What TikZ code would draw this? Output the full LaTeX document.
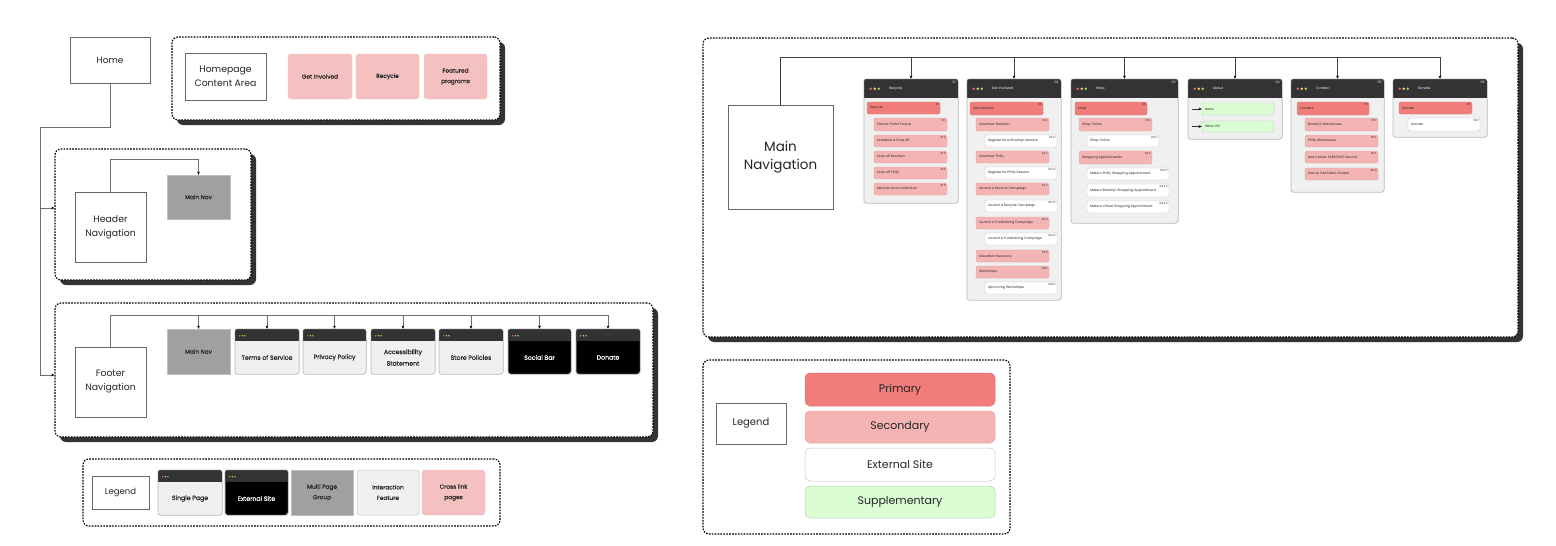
\documentclass[tikz,border=0pt]{standalone}
\usepackage{fontspec}
\setmainfont{Poppins}
\newfontfamily\popsemi[FakeBold=0.6]{Poppins}
\usetikzlibrary{arrows.meta,shadows}
\definecolor{prim}{HTML}{F07D79}
\definecolor{primd}{HTML}{E0716D}
\definecolor{sec}{HTML}{F4B4B4}
\definecolor{secd}{HTML}{E3A3A3}
\definecolor{pinkbox}{HTML}{F5C0C0}
\definecolor{supp}{HTML}{DAFDD4}
\definecolor{suppd}{HTML}{B4CFB0}
\definecolor{colbg}{HTML}{F0F0F0}
\definecolor{colbd}{HTML}{C4C4C4}
\definecolor{barc}{HTML}{333333}
\definecolor{multig}{HTML}{A0A0A0}
\definecolor{dotr}{HTML}{E8666B}
\definecolor{doty}{HTML}{E8D66A}
\definecolor{dotg}{HTML}{98D86E}
\definecolor{lnc}{HTML}{6E6E6E}
\definecolor{txtc}{HTML}{262626}
\tikzset{
  plain/.style={draw=black!60, line width=0.7pt, fill=white, inner sep=0pt, align=center, text=txtc},
  pink/.style={draw=secd!70, fill=pinkbox, rounded corners=3pt, line width=0.4pt, inner sep=0pt, align=center, text=txtc, font=\popsemi\fontsize{5.8}{10.5}\selectfont},
  dashbox/.style={draw=black, line width=1.1pt, dash pattern=on 1.7pt off 1.2pt, rounded corners=6pt, fill=white, inner sep=0pt},
  shadowed/.style={drop shadow={shadow xshift=5pt, shadow yshift=-5pt, fill=barc, opacity=1}},
  winbody/.style={draw=colbd, fill=colbg, rounded corners=2.5pt, line width=0.5pt, inner sep=0pt},
  wintxt/.style={inner sep=0pt, align=center, font=\popsemi\fontsize{6.2}{11.5}\selectfont},
  multi/.style={draw=black!25, fill=multig, line width=0.4pt, inner sep=0pt, align=center, text=txtc, font=\popsemi\fontsize{5.8}{10.5}\selectfont},
  conn/.style={draw=lnc, line width=0.6pt},
  arr/.style={draw=lnc, line width=0.6pt, -{Stealth[length=3.2pt,width=2.8pt,black]}},
  primitem/.style={draw=primd, fill=prim, rounded corners=2pt, line width=0.4pt, inner sep=0pt},
  secitem/.style={draw=secd, fill=sec, rounded corners=2pt, line width=0.4pt, inner sep=0pt},
  extitem/.style={draw=colbd, fill=white, rounded corners=2pt, line width=0.4pt, inner sep=0pt},
  suppitem/.style={draw=suppd, fill=supp, rounded corners=2pt, line width=0.4pt, inner sep=0pt},
  itxt/.style={font=\fontsize{3.3}{4}\selectfont, inner sep=0pt, anchor=west, text=txtc},
  ntxt/.style={font=\fontsize{2.8}{3.2}\selectfont, inner sep=0pt, anchor=north east, text=txtc},
  ctitle/.style={font=\fontsize{3.4}{4}\selectfont, inner sep=0pt, anchor=west, text=white},
  cnum/.style={font=\fontsize{3.2}{4}\selectfont, inner sep=0pt, anchor=north east, text=white},
  legitem/.style={rounded corners=5pt, line width=0.5pt, inner sep=0pt, text=txtc, font=\fontsize{11}{13}\selectfont}
}
\newcommand\bx[7]{\node[#2, minimum width={(#5-#3)*1pt}, minimum height={(#6-#4)*1pt}] (#1) at ({(#3+#5)/2},{(#4+#6)/2}) {#7};}
\newcommand\winbox[9]{%
  \bx{#1}{winbody, fill=#7}{#2}{#3}{#4}{#5}{}
  \begin{scope}
    \clip[rounded corners=2.5pt] (#1.south west) rectangle (#1.north east);
    \fill[barc] (#1.north west) rectangle ([yshift=-#6pt]#1.north east);
  \end{scope}
  \draw[colbd, line width=0.5pt, rounded corners=2.5pt] (#1.south west) rectangle (#1.north east);
  \fill[dotr] ([xshift=5pt,yshift=-7pt]#1.north west) circle (0.8pt);
  \fill[doty] ([xshift=7.6pt,yshift=-7pt]#1.north west) circle (0.8pt);
  \fill[dotg] ([xshift=10.2pt,yshift=-7pt]#1.north west) circle (0.8pt);
  \node[wintxt, text=#8] (#1-t) at ({(#2+#4)/2},{(#3+#5+#6)/2}) {#9};
}
\newcommand\colwin[7]{%
  \bx{#1}{winbody}{#2}{#3}{#4}{#5}{}
  \begin{scope}
    \clip[rounded corners=2.5pt] (#1.south west) rectangle (#1.north east);
    \fill[barc] (#1.north west) rectangle ([yshift=-19pt]#1.north east);
  \end{scope}
  \draw[colbd, line width=0.5pt, rounded corners=2.5pt] (#1.south west) rectangle (#1.north east);
  \fill[dotr] ([xshift=7pt,yshift=-10pt]#1.north west) circle (1.3pt);
  \fill[doty] ([xshift=11pt,yshift=-10pt]#1.north west) circle (1.3pt);
  \fill[dotg] ([xshift=15pt,yshift=-10pt]#1.north west) circle (1.3pt);
  \node[ctitle] (#1-t) at ([xshift=25pt,yshift=-10pt]#1.north west) {#6};
  \node[cnum] (#1-n) at ([xshift=-2.5pt,yshift=-2.5pt]#1.north east) {#7};
}
\newcommand\nitem[8]{%
  \bx{#1}{#2}{#3}{#4}{#5}{#6}{}
  \node[itxt] (#1-t) at ([xshift=3pt]#1.west) {#7};
  \node[ntxt] (#1-n) at ([xshift=-1.5pt,yshift=-1.3pt]#1.north east) {#8};
}
\begin{document}
\begin{tikzpicture}[x=1pt,y=-1pt]
\useasboundingbox (0,0) rectangle (1556,546);
\fill[white] (0,0) rectangle (1556,546);

% ---------- LEFT: home ----------
\bx{home}{plain, font=\fontsize{9}{11}\selectfont}{70}{37}{150}{83}{Home}
\bx{hca}{dashbox,shadowed}{172}{37}{500}{120}{}
\bx{hcabox}{plain, font=\fontsize{9.3}{13.5}\selectfont}{185}{53}{266}{100}{Homepage\\Content Area}
\bx{hgi}{pink}{288}{54}{352}{99}{Get Involved}
\bx{hre}{pink}{356}{54}{419}{99}{Recycle}
\bx{hfp}{pink}{424}{54}{487}{99}{Featured\\programs}

% ---------- header ----------
\bx{hdr}{dashbox,shadowed}{55}{149}{251}{280}{}
\bx{hn}{plain, font=\fontsize{9.3}{14}\selectfont}{75}{192}{146}{262}{Header\\Navigation}
\bx{hmn}{multi}{167}{175}{230}{219}{Main Nav}
\draw[arr] (hn.north) |- ([yshift=16pt]hmn.north) -- (hmn.north);

% ---------- footer ----------
\bx{ftr}{dashbox,shadowed}{55}{303}{653}{437}{}
\bx{fn}{plain, font=\fontsize{9.3}{14}\selectfont}{75}{347}{146}{417}{Footer\\Navigation}
\bx{fmn}{multi}{167}{329}{230}{374}{Main Nav}
\winbox{fts}{235}{329}{299}{374}{12}{colbg}{txtc}{Terms of Service}
\winbox{fpp}{303}{329}{366}{374}{12}{colbg}{txtc}{Privacy Policy}
\winbox{fas}{371}{329}{435}{374}{12}{colbg}{txtc}{Accessibility\\Statement}
\winbox{fsp}{439}{329}{503}{374}{12}{colbg}{txtc}{Store Policies}
\winbox{fsb}{508}{329}{571}{374}{12}{black}{white}{Social Bar}
\winbox{fdo}{576}{329}{640}{374}{12}{black}{white}{Donate}
\coordinate (fbus) at (111,315);
\draw[conn] (fn.north) -- (fn.north |- fbus) -- (fdo.north |- fbus);
\foreach \b in {fmn,fts,fpp,fas,fsp,fsb,fdo}{\draw[arr] (\b.north |- fbus) -- (\b.north);}

% ---------- trunk ----------
\coordinate (t1) at (40,127);
\coordinate (t2) at (40,208);
\coordinate (t3) at (40,375);
\draw[conn] (home.south) |- (t1) -- (t3);
\draw[arr] (t2) -- (t2 -| hdr.west);
\draw[arr] (t3) -- (t3 -| ftr.west);

% ---------- left legend ----------
\bx{lg}{dashbox}{83}{459}{500}{526}{}
\bx{lgl}{plain, font=\fontsize{8.5}{10}\selectfont}{92}{476}{149}{509}{Legend}
\winbox{lsp}{158}{470}{222}{515}{12}{colbg}{txtc}{Single Page}
\winbox{les}{225}{470}{288}{515}{12}{black}{white}{External Site}
\bx{lmp}{multi}{291}{470}{353}{515}{Multi Page\\Group}
\bx{lif}{winbody, align=center, text=txtc, font=\popsemi\fontsize{5.8}{10.5}\selectfont}{357}{470}{419}{515}{Interaction\\Feature}
\bx{lcl}{pink}{422}{470}{485}{515}{Cross link\\pages}

% ---------- RIGHT: main navigation ----------
\bx{mn}{dashbox,shadowed}{703}{38}{1518}{337}{}
\bx{mnav}{plain, font=\fontsize{13.5}{18}\selectfont}{728}{105}{833}{209}{Main\\Navigation}

\colwin{cR}{864}{79}{958}{203}{Recycle}{01}
\colwin{cG}{967}{79}{1061}{300}{Get Involved}{02}
\colwin{cS}{1071}{79}{1178}{223}{Shop}{03}
\colwin{cA}{1188}{79}{1282}{139}{About}{04}
\colwin{cC}{1291}{79}{1384}{192}{Contact}{05}
\colwin{cD}{1393}{79}{1487}{137}{Donate}{06}

\coordinate (mbus) at (781,57);
\draw[conn, draw=black!75] (mnav.north) -- (mnav.north |- mbus) -- (cD.north |- mbus);
\foreach \c in {cR,cG,cS,cA,cC,cD}{\draw[arr, draw=black!75] (\c.north |- mbus) -- (\c.north);}

% Recycle
\nitem{r0}{primitem}{867}{102}{940}{114}{Recycle}{01}
\nitem{r1}{secitem}{874}{118}{947}{131}{Partner Portal Pickup}{01.1}
\nitem{r2}{secitem}{874}{135}{947}{147}{Schedule a Drop off}{01.2}
\nitem{r3}{secitem}{874}{151}{947}{163}{Drop off Brooklyn}{01.3}
\nitem{r4}{secitem}{874}{167}{947}{179}{Drop off Philly}{01.4}
\nitem{r5}{secitem}{874}{183}{947}{195}{Recycle as an Individual}{01.5}

% Get Involved
\nitem{g0}{primitem}{970}{102}{1043}{115}{Get Involved}{02}
\nitem{g1}{secitem}{976}{118}{1049}{131}{Volunteer Brooklyn}{02.1}
\nitem{g2}{extitem}{985}{135}{1057}{147}{Register for a Brooklyn Session}{02.1.1}
\nitem{g3}{secitem}{976}{151}{1049}{163}{Volunteer Philly}{02.2}
\nitem{g4}{extitem}{985}{167}{1057}{179}{Register for Philly Session}{02.2.1}
\nitem{g5}{secitem}{976}{183}{1049}{195}{Launch a Recycle Campaign}{02.3}
\nitem{g6}{extitem}{985}{200}{1057}{212}{Launch a Recycle Campaign}{02.3.1}
\nitem{g7}{secitem}{976}{217}{1049}{229}{Launch a Fundraising Campaign}{02.4}
\nitem{g8}{extitem}{985}{233}{1057}{245}{Launch a Fundraising Campaign}{02.4.1}
\nitem{g9}{secitem}{976}{250}{1049}{262}{Education Resource}{02.5}
\nitem{g10}{secitem}{976}{266}{1049}{278}{Workshops}{02.6}
\nitem{g11}{extitem}{985}{282}{1057}{294}{Upcoming Workshops}{02.6.1}

% Shop
\nitem{s0}{primitem}{1075}{102}{1147}{115}{Shop}{03}
\nitem{s1}{secitem}{1079}{118}{1152}{131}{Shop Online}{03.1}
\nitem{s2}{extitem}{1087}{135}{1159}{147}{Shop Online}{03.1.1}
\nitem{s3}{secitem}{1079}{151}{1152}{164}{Shopping Appointments}{03.2}
\nitem{s4}{extitem}{1087}{168}{1169}{180}{Make a Philly Shopping Appointment}{03.2.1}
\nitem{s5}{extitem}{1087}{184}{1169}{197}{Make a Brooklyn Shopping Appointment}{03.2.2}
\nitem{s6}{extitem}{1087}{201}{1169}{213}{Make a Virtual Shopping Appointment}{03.2.3}

% About
\nitem{a1}{suppitem}{1202}{103}{1274}{115}{News}{}
\nitem{a2}{suppitem}{1202}{121}{1274}{132}{Whos Hill}{}
\coordinate (aa1) at (1192,109);
\coordinate (aa2) at (1192,126.5);
\draw[arr, draw=black!80] (aa1) -- (a1.west);
\draw[arr, draw=black!80] (aa2) -- (a2.west);

% Contact
\nitem{k0}{primitem}{1297}{102}{1369}{115}{Contact}{05}
\nitem{k1}{secitem}{1305}{118}{1378}{131}{Brooklyn Warehouse}{05.1}
\nitem{k2}{secitem}{1305}{135}{1378}{147}{Philly Warehouse}{05.2}
\nitem{k3}{secitem}{1305}{151}{1378}{163}{Learn More: FABSCRAP Service}{05.3}
\nitem{k4}{secitem}{1305}{168}{1378}{180}{How to Get Fabric Scraps}{05.4}

% Donate
\nitem{d0}{primitem}{1399}{102}{1472}{114}{Donate}{06}
\nitem{d1}{extitem}{1408}{118}{1480}{131}{Donate}{06.1}

% ---------- right legend ----------
\bx{rl}{dashbox}{703}{360}{1010}{534}{}
\bx{rll}{plain, font=\fontsize{10}{12}\selectfont}{716}{403}{786}{444}{Legend}
\bx{rlp}{legitem, draw=primd, fill=prim}{805}{373}{995}{406}{Primary}
\bx{rls}{legitem, draw=secd, fill=sec}{805}{411}{995}{443}{Secondary}
\bx{rle}{legitem, draw=colbd, fill=white}{805}{448}{995}{481}{External Site}
\bx{rlsu}{legitem, draw=suppd, fill=supp}{805}{486}{995}{518}{Supplementary}
\end{tikzpicture}
\end{document}
